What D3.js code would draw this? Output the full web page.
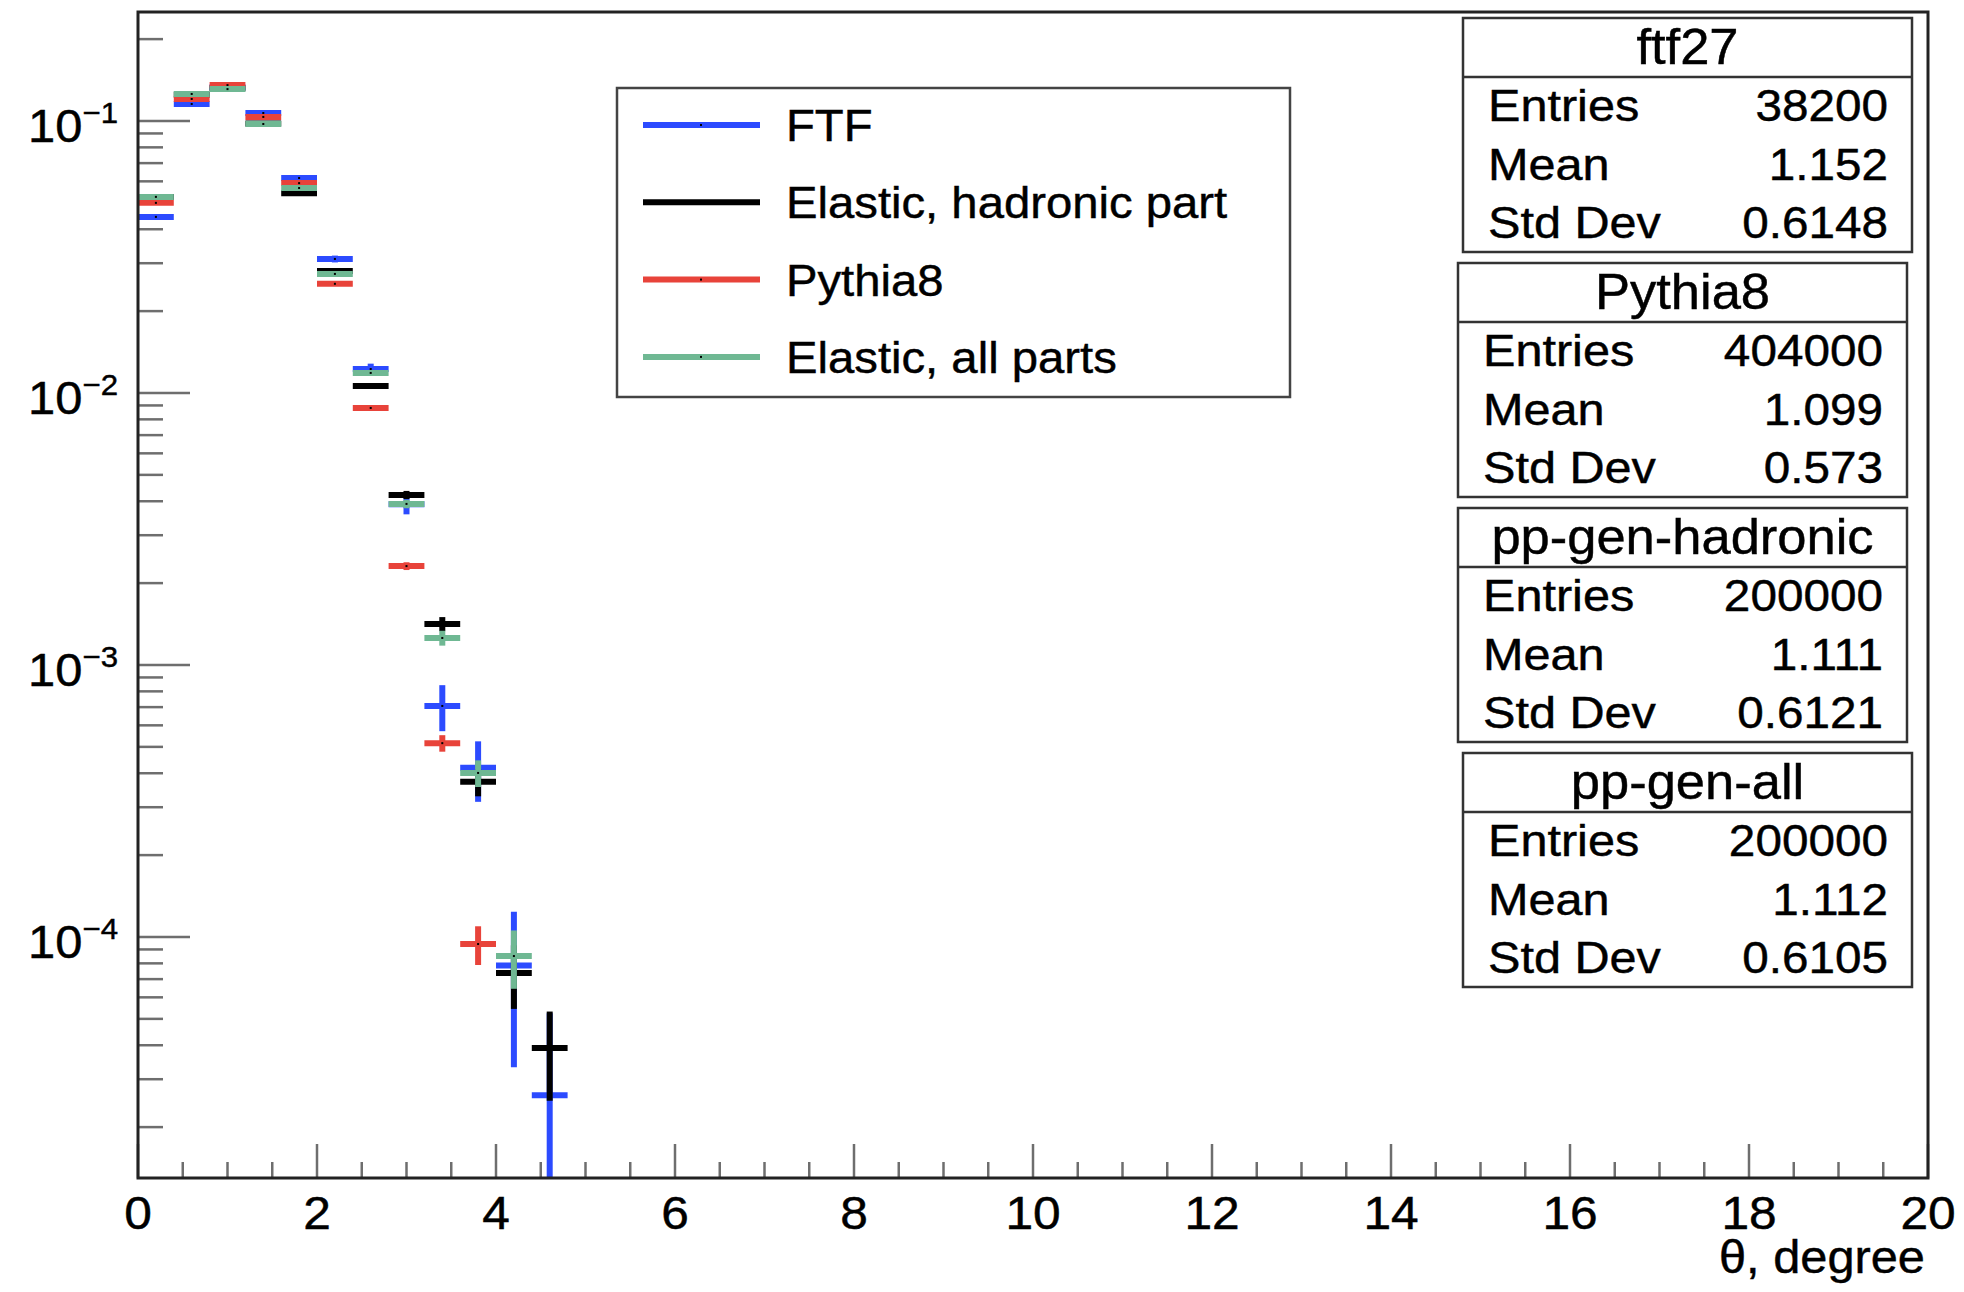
<!DOCTYPE html>
<html>
<head>
<meta charset="utf-8">
<script src="https://cdn.jsdelivr.net/npm/d3@7"></script>
<style>
  html, body { margin: 0; padding: 0; background: #fff; }
  svg text { font-family: "Liberation Sans", Arial, Helvetica, sans-serif; fill: #000; stroke: #000; stroke-width: 0.45; }
</style>
</head>
<body>
<div id="chart"></div>
<script>
// bin centres (theta, degree), bin width 0.4
const binCenters = [0.2, 0.6, 1.0, 1.4, 1.8, 2.2, 2.6, 3.0, 3.4, 3.8, 4.2, 4.6];
const binWidth = 0.4;

// normalised bin contents
const ftfValues     = [0.0444, 0.1155, 0.133, 0.107, 0.0617, 0.0311, 0.01225, 0.0039, 0.000707, 0.000419, 0.0000785, 0.0000262];
const ftfErrors     = [0.0011, 0.0017, 0.0019, 0.0017, 0.0013, 0.0009, 0.00057, 0.00032, 0.000136, 0.000105, 0.0000453, 0.0000262];
const hadronValues  = [0.0526, 0.125, 0.132, 0.098, 0.0543, 0.0281, 0.0106, 0.00422, 0.001416, 0.000372, 0.0000738, 0.0000391];
const hadronErrors  = [0.0005, 0.0008, 0.0008, 0.0007, 0.0005, 0.00037, 0.00023, 0.000145, 0.000084, 0.000043, 0.0000194, 0.0000141];
const pythiaValues  = [0.050, 0.1205, 0.1355, 0.1035, 0.0591, 0.0252, 0.00881, 0.00231, 0.000516, 0.0000942, 0, 0];
const pythiaErrors  = [0.00035, 0.00055, 0.00058, 0.0005, 0.00038, 0.00025, 0.00015, 0.000076, 0.000036, 0.0000153, 0, 0];
const allValues     = [0.0526, 0.1257, 0.131, 0.0975, 0.0567, 0.0274, 0.01185, 0.00391, 0.001257, 0.000401, 0.0000851, 0];
const allErrors     = [0.0005, 0.0008, 0.0008, 0.0007, 0.00053, 0.00037, 0.00024, 0.00014, 0.000079, 0.000045, 0.0000206, 0];

const seriesNames  = ['FTF', 'Elastic, hadronic part', 'Pythia8', 'Elastic, all parts'];
const seriesColors = ['#2c4bff', '#000000', '#e8433a', '#6fb893'];

// stat boxes
const statTitles  = ['ftf27', 'Pythia8', 'pp-gen-hadronic', 'pp-gen-all'];
const statLabels  = ['Entries', 'Mean', 'Std Dev'];
const statEntries = ['38200', '404000', '200000', '200000'];
const statMeans   = ['1.152', '1.099', '1.111', '1.112'];
const statStdDevs = ['0.6148', '0.573', '0.6121', '0.6105'];

const xTickLabels = [0, 2, 4, 6, 8, 10, 12, 14, 16, 18, 20];
const yTickLabels = ['\u22121', '\u22122', '\u22123', '\u22124'];
const xTitle = '\u03b8, degree';

const W = 1964, H = 1292;
const margin = {top: 12, right: 36, bottom: 114, left: 138};

const svg = d3.select('#chart').append('svg')
    .attr('width', W)
    .attr('height', H);

const x = d3.scaleLinear().domain([0, 20]).range([margin.left, W - margin.right]);
const y = d3.scaleLog().domain([1.30e-5, 0.2516]).range([H - margin.bottom, margin.top]);

const tickColor = '#6e6e6e';

// text slightly stretched sideways, the original font runs wider
function label(parent, tx, ty, str, size, anchor, sx) {
  return parent.append('text')
      .attr('transform', `translate(${tx},${ty}) scale(${sx},1)`)
      .attr('text-anchor', anchor)
      .attr('font-size', size)
      .text(str);
}

// clip for the data
svg.append('clipPath').attr('id', 'plotclip')
  .append('rect')
    .attr('x', margin.left).attr('y', margin.top)
    .attr('width', x(20) - x(0)).attr('height', y.range()[0] - margin.top);

// y ticks (major decades + minor 2..9)
const yMinor = [];
for (let e = -5; e <= -1; e++) {
  for (let k = 2; k <= 9; k++) {
    const v = k * Math.pow(10, e);
    if (v > y.domain()[0] && v < y.domain()[1]) yMinor.push(v);
  }
}
const yMajor = [1e-1, 1e-2, 1e-3, 1e-4];

svg.append('g').selectAll('line.ymin')
    .data(yMinor).enter().append('line')
    .attr('x1', x(0)).attr('x2', x(0) + 25)
    .attr('y1', d => y(d)).attr('y2', d => y(d))
    .attr('stroke', tickColor).attr('stroke-width', 2.5);

svg.append('g').selectAll('line.ymaj')
    .data(yMajor).enter().append('line')
    .attr('x1', x(0)).attr('x2', x(0) + 52)
    .attr('y1', d => y(d)).attr('y2', d => y(d))
    .attr('stroke', tickColor).attr('stroke-width', 2.5);

const yLab = svg.append('g').selectAll('text')
    .data(yMajor).enter().append('text')
    .attr('transform', d => `translate(118,${y(d) + 21}) scale(1.04,1)`)
    .attr('text-anchor', 'end')
    .attr('font-size', 47);
yLab.append('tspan').text('10');
yLab.append('tspan')
    .attr('font-size', 30)
    .attr('dy', -19)
    .text((d, i) => yTickLabels[i]);

// x ticks
const xMinor = d3.range(0, 20.001, 0.5).filter(v => Math.abs(v % 2) > 1e-6);
const xMajor = d3.range(0, 20.001, 2);
svg.append('g').selectAll('line')
    .data(xMinor).enter().append('line')
    .attr('x1', d => x(d)).attr('x2', d => x(d))
    .attr('y1', y.range()[0]).attr('y2', y.range()[0] - 16)
    .attr('stroke', tickColor).attr('stroke-width', 2.5);
svg.append('g').selectAll('line')
    .data(xMajor).enter().append('line')
    .attr('x1', d => x(d)).attr('x2', d => x(d))
    .attr('y1', y.range()[0]).attr('y2', y.range()[0] - 34)
    .attr('stroke', tickColor).attr('stroke-width', 2.5);

const xLabG = svg.append('g');
xTickLabels.forEach(d => label(xLabG, x(d), 1229, d, 46, 'middle', 1.08));

label(svg, 1925, 1273, xTitle, 46, 'end', 1.06);

// data: histograms with error bars, drawn FTF, hadronic, Pythia8, all
const allSeries = [
  {vals: ftfValues, errs: ftfErrors},
  {vals: hadronValues, errs: hadronErrors},
  {vals: pythiaValues, errs: pythiaErrors},
  {vals: allValues, errs: allErrors}
];

const dataG = svg.append('g').attr('clip-path', 'url(#plotclip)');
allSeries.forEach((s, si) => {
  const pts = binCenters.map((c, i) => ({c: c, v: s.vals[i], e: s.errs[i]}))
                        .filter(p => p.v > 0);
  const g = dataG.append('g').attr('class', 'series');
  g.selectAll('line.v')
      .data(pts).enter().append('line')
      .attr('x1', d => x(d.c)).attr('x2', d => x(d.c))
      .attr('y1', d => y(d.v + d.e))
      .attr('y2', d => (d.v - d.e) > y.domain()[0] ? y(d.v - d.e) : y.range()[0])
      .attr('stroke', seriesColors[si]).attr('stroke-width', 6);
  g.selectAll('line.h')
      .data(pts).enter().append('line')
      .attr('x1', d => x(d.c - binWidth / 2)).attr('x2', d => x(d.c + binWidth / 2))
      .attr('y1', d => y(d.v)).attr('y2', d => y(d.v))
      .attr('stroke', seriesColors[si]).attr('stroke-width', 6);
  g.selectAll('rect.dot')
      .data(pts).enter().append('rect')
      .attr('x', d => x(d.c) - 1).attr('y', d => y(d.v) - 1)
      .attr('width', 2).attr('height', 2)
      .attr('fill', '#000');
});

// frame
svg.append('rect')
    .attr('x', margin.left).attr('y', margin.top)
    .attr('width', x(20) - x(0)).attr('height', y.range()[0] - margin.top)
    .attr('fill', 'none').attr('stroke', '#222').attr('stroke-width', 3);

// legend
const legend = svg.append('g');
legend.append('rect')
    .attr('x', 617).attr('y', 88).attr('width', 673).attr('height', 309)
    .attr('fill', '#fff').attr('stroke', '#444').attr('stroke-width', 2.5);
seriesNames.forEach((name, i) => {
  const ly = 125 + i * 77.3;
  legend.append('line')
      .attr('x1', 643).attr('x2', 760).attr('y1', ly).attr('y2', ly)
      .attr('stroke', seriesColors[i]).attr('stroke-width', 6);
  legend.append('rect')
      .attr('x', 700).attr('y', ly - 1).attr('width', 2).attr('height', 2)
      .attr('fill', '#000');
  label(legend, 786, ly + 16, name, 45, 'start', 1.05);
});

// stat boxes
const boxLeft = [1463, 1458, 1458, 1463];
const boxTop = [18, 263, 508, 753];
const boxW = 449, boxH = 234;
statTitles.forEach((t, i) => {
  const g = svg.append('g').attr('transform', `translate(${boxLeft[i]},${boxTop[i]})`);
  g.append('rect')
      .attr('width', boxW).attr('height', boxH)
      .attr('fill', '#fff').attr('stroke', '#333').attr('stroke-width', 2.5);
  g.append('line')
      .attr('x1', 0).attr('x2', boxW).attr('y1', 59).attr('y2', 59)
      .attr('stroke', '#333').attr('stroke-width', 2.5);
  label(g, boxW / 2, 46, t, 50, 'middle', 1.05);
  const vals = [statEntries[i], statMeans[i], statStdDevs[i]];
  statLabels.forEach((lab, j) => {
    const by = 103 + j * 58.5;
    label(g, 25, by, lab, 45, 'start', 1.08);
    label(g, boxW - 24, by, vals[j], 45, 'end', 1.06);
  });
});
</script>
</body>
</html>
